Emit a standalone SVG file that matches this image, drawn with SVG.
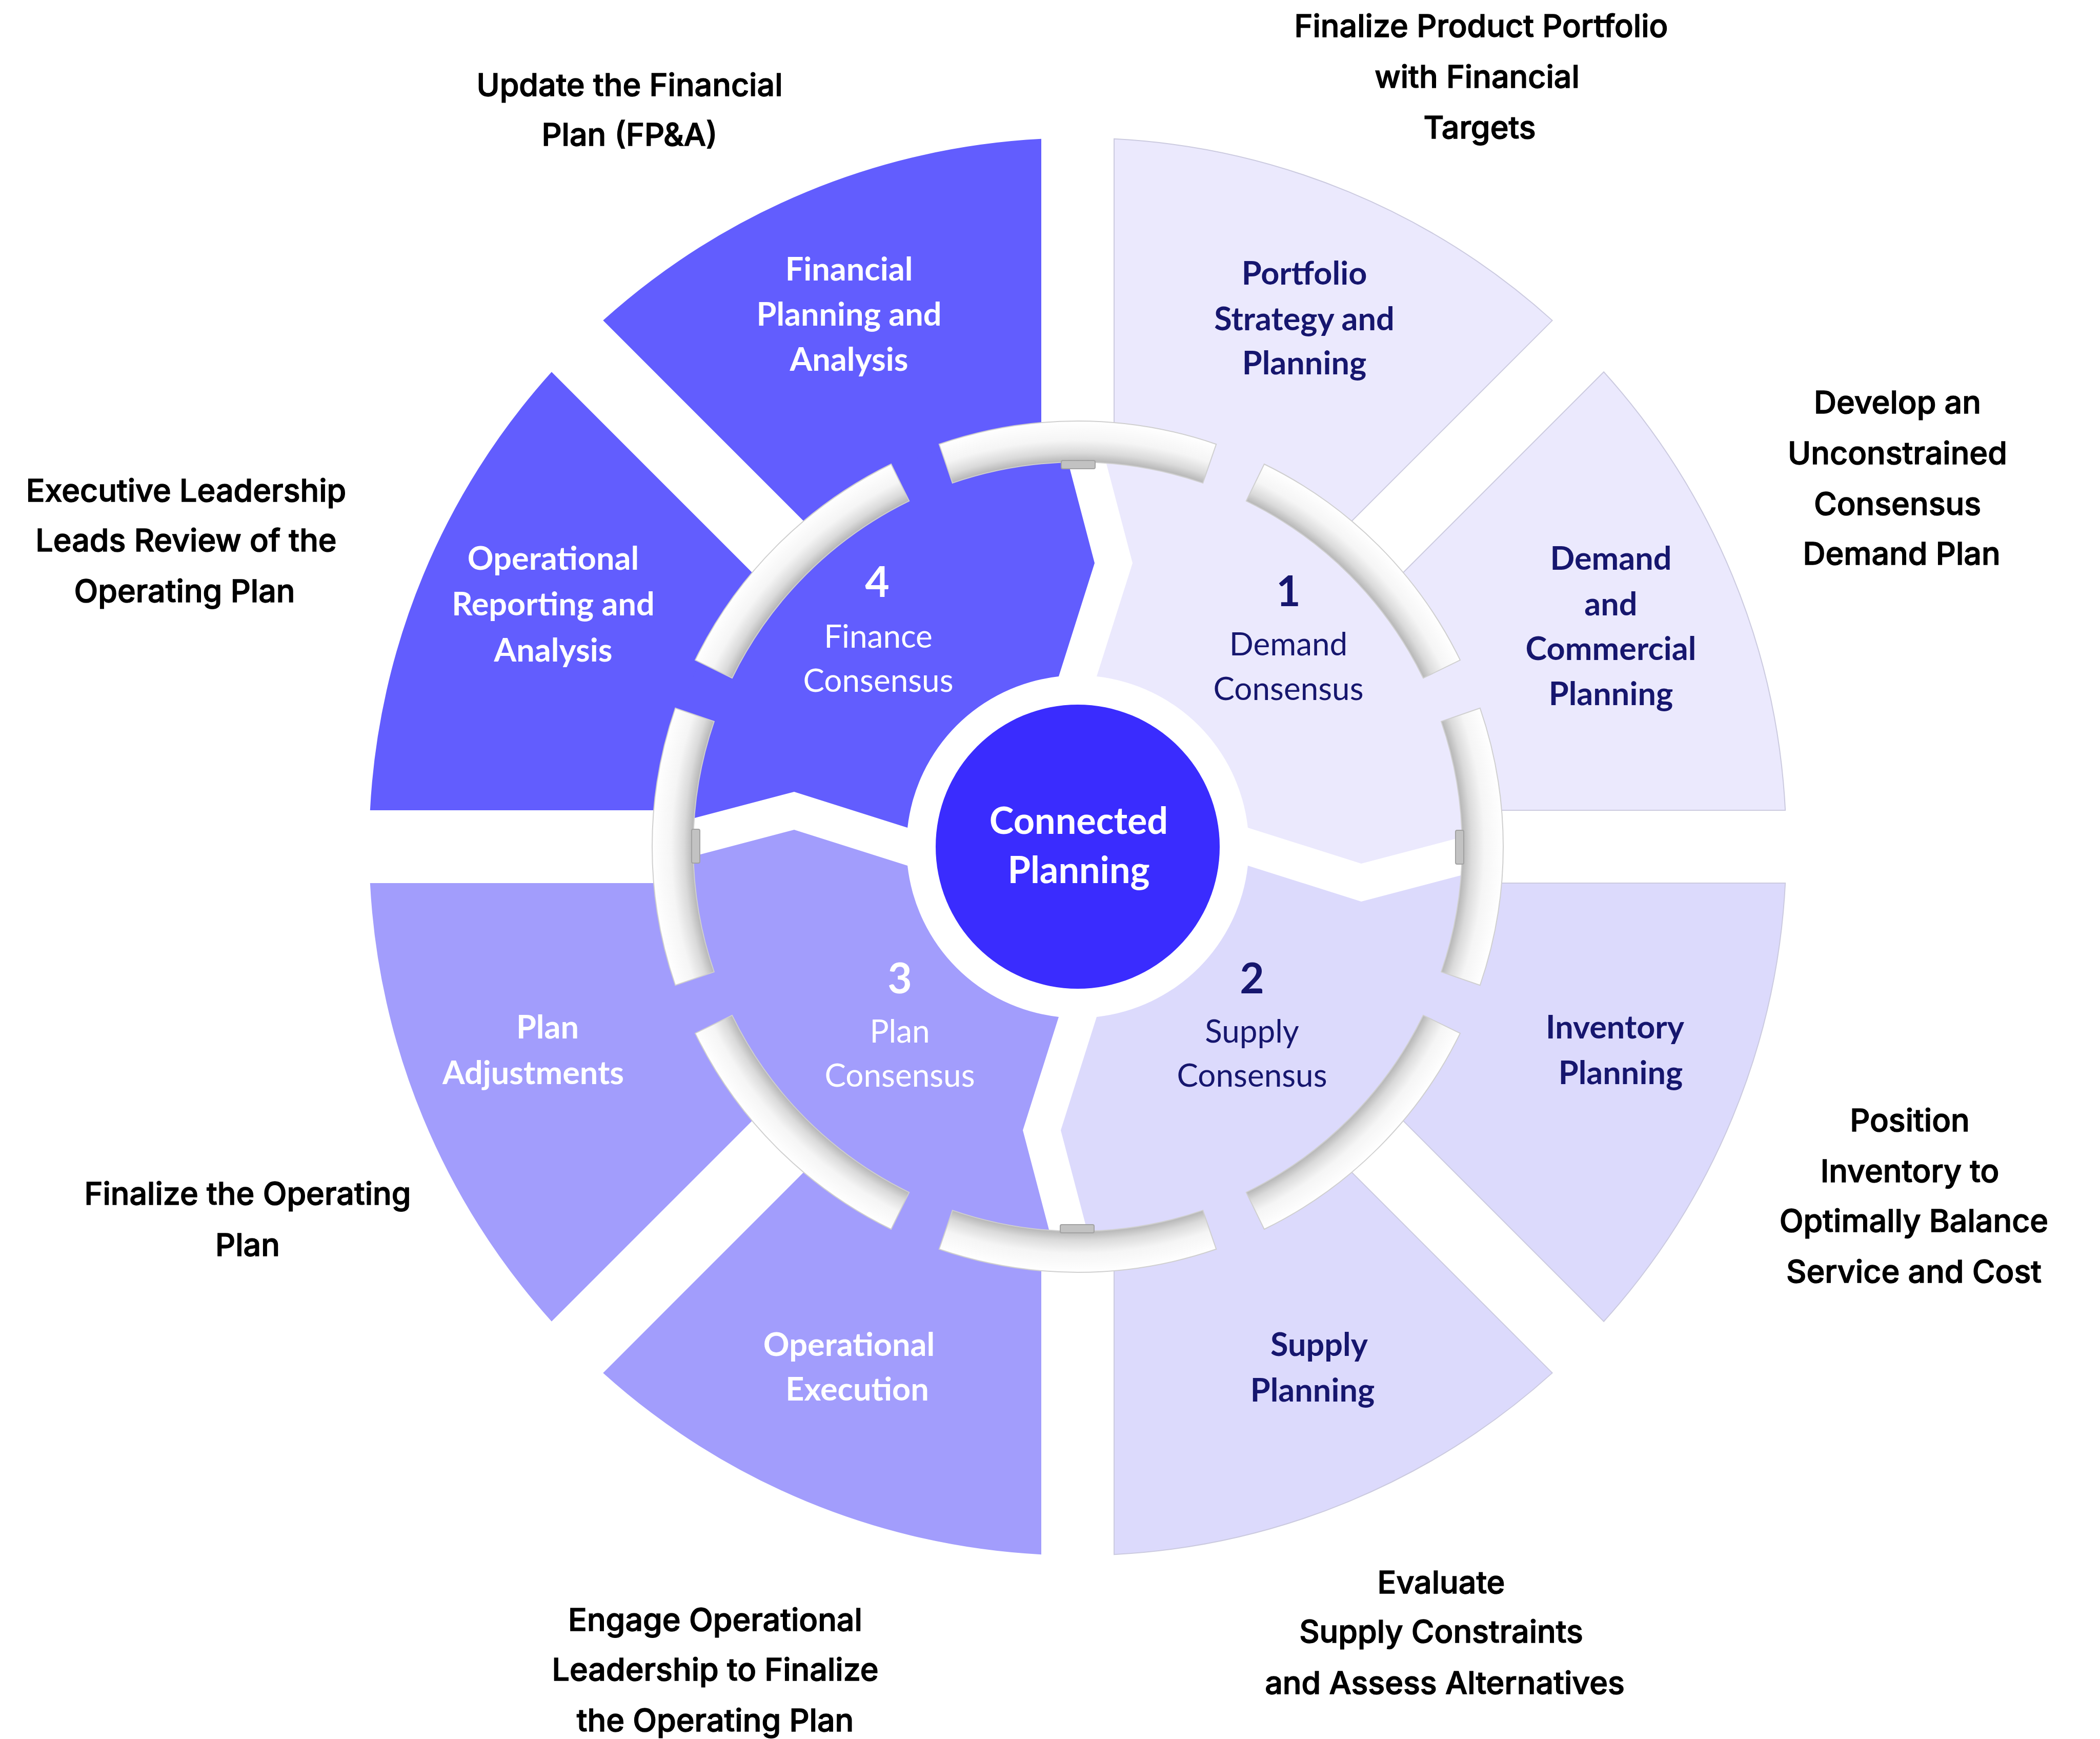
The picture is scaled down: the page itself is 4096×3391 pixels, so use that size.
<svg xmlns="http://www.w3.org/2000/svg" xmlns:xlink="http://www.w3.org/1999/xlink" width="4096" height="3391" viewBox="0 0 4096 3391">
<style>
.s4{fill:#625dfe}
.s3{fill:#a29dfc}
.s2{fill:#dcdafc;stroke:#cbcadf;stroke-width:2}
.s1{fill:#ebe9fd;stroke:#cbcadf;stroke-width:2}
.q4{fill:#625dfe}
.q3{fill:#a29dfc}
.q2{fill:#dcdafc}
.q1{fill:#ebe9fd}
.ann{font-family:Inter,"Liberation Sans",sans-serif;font-weight:500;font-size:61px;fill:#000;stroke:#000;stroke-width:1.4px;text-anchor:middle}
.lbl{font-family:Lato,"Liberation Sans",sans-serif;font-weight:700;font-size:63px;text-anchor:middle}
.cons{font-family:Lato,"Liberation Sans",sans-serif;font-weight:400;font-size:62px;text-anchor:middle}
.num{font-family:Lato,"Liberation Sans",sans-serif;font-weight:700;font-size:82px;text-anchor:middle}
.ctr{font-family:Lato,"Liberation Sans",sans-serif;font-weight:700;font-size:72px;text-anchor:middle;fill:#fff}
.w{fill:#fff}
.n{fill:#16166e}
.arc{fill:url(#ringGrad);stroke:#cfcfcf;stroke-width:2}
.tab{fill:#c2c2c2;stroke:#a2a2a2;stroke-width:2}
</style>
<defs>
<radialGradient id="ringGrad" gradientUnits="userSpaceOnUse" cx="2102" cy="1651" r="830">
<stop offset="0.9036" stop-color="#b6b6b6"/>
<stop offset="0.925" stop-color="#dadada"/>
<stop offset="0.955" stop-color="#f5f5f5"/>
<stop offset="1" stop-color="#ffffff"/>
</radialGradient>
<path id="arcTop" d="M 1831.78 866.22 A 830 830 0 0 1 2372.22 866.22 L 2346.18 941.86 A 750 750 0 0 0 1857.82 941.86 Z"/>
<rect id="tabTop" x="2070" y="898" width="66" height="16" rx="3"/>
</defs>
<rect x="0" y="0" width="4096" height="3391" fill="#ffffff"/>

<g id="seg-portfolio">
<path class="s1" d="M 2173 854.16 L 2173 270.82 A 1382 1382 0 0 1 3027.73 624.87 L 2615.25 1037.35 A 800 800 0 0 0 2173 854.16 Z"/>
<text class="lbl n" x="2544" y="555">Portfolio</text>
<text class="lbl n" x="2544" y="644">Strategy and</text>
<text class="lbl n" x="2544" y="730">Planning</text>
</g>
<g id="seg-demand-commercial">
<path class="s1" d="M 2715.65 1137.75 L 3128.13 725.27 A 1382 1382 0 0 1 3482.18 1580 L 2898.84 1580 A 800 800 0 0 0 2715.65 1137.75 Z"/>
<text class="lbl n" x="3142" y="1111">Demand</text>
<text class="lbl n" x="3142" y="1200">and</text>
<text class="lbl n" x="3142" y="1287">Commercial</text>
<text class="lbl n" x="3142" y="1375">Planning</text>
</g>
<g id="seg-inventory">
<path class="s2" d="M 2898.84 1722 L 3482.18 1722 A 1382 1382 0 0 1 3128.13 2576.73 L 2715.65 2164.25 A 800 800 0 0 0 2898.84 1722 Z"/>
<text class="lbl n" x="3150" y="2025">Inventory</text>
<text class="lbl n" x="3161" y="2114">Planning</text>
</g>
<g id="seg-supply-planning">
<path class="s2" d="M 2615.25 2264.65 L 3027.73 2677.13 A 1382 1382 0 0 1 2173 3031.18 L 2173 2447.84 A 800 800 0 0 0 2615.25 2264.65 Z"/>
<text class="lbl n" x="2573" y="2644">Supply</text>
<text class="lbl n" x="2560" y="2733">Planning</text>
</g>
<g id="seg-operational-execution">
<path class="s3" d="M 2031 2447.84 L 2031 3031.18 A 1382 1382 0 0 1 1176.27 2677.13 L 1588.75 2264.65 A 800 800 0 0 0 2031 2447.84 Z"/>
<text class="lbl w" x="1656" y="2644">Operational</text>
<text class="lbl w" x="1672" y="2731">Execution</text>
</g>
<g id="seg-plan-adjustments">
<path class="s3" d="M 1488.35 2164.25 L 1075.87 2576.73 A 1382 1382 0 0 1 721.82 1722 L 1305.16 1722 A 800 800 0 0 0 1488.35 2164.25 Z"/>
<text class="lbl w" x="1068" y="2025">Plan</text>
<text class="lbl w" x="1040" y="2114">Adjustments</text>
</g>
<g id="seg-operational-reporting">
<path class="s4" d="M 1305.16 1580 L 721.82 1580 A 1382 1382 0 0 1 1075.87 725.27 L 1488.35 1137.75 A 800 800 0 0 0 1305.16 1580 Z"/>
<text class="lbl w" x="1079" y="1111">Operational</text>
<text class="lbl w" x="1079" y="1200">Reporting and</text>
<text class="lbl w" x="1079" y="1290">Analysis</text>
</g>
<g id="seg-fpa">
<path class="s4" d="M 1588.75 1037.35 L 1176.27 624.87 A 1382 1382 0 0 1 2031 270.82 L 2031 854.16 A 800 800 0 0 0 1588.75 1037.35 Z"/>
<text class="lbl w" x="1656" y="547">Financial</text>
<text class="lbl w" x="1656" y="635">Planning and</text>
<text class="lbl w" x="1656" y="723">Analysis</text>
</g>

<g id="q1-demand-consensus">
<path class="q1" d="M 2139 1319.1 L 2209 1098 L 2139 831.8 A 820 820 0 0 1 2921.2 1614 L 2655 1684 L 2433.9 1614 A 334 334 0 0 0 2139 1319.1 Z"/>
</g>
<g id="q2-supply-consensus">
<path class="q2" d="M 2433.9 1688 L 2655 1758 L 2921.2 1688 A 820 820 0 0 1 2139 2470.2 L 2069 2204 L 2139 1982.9 A 334 334 0 0 0 2433.9 1688 Z"/>
</g>
<g id="q3-plan-consensus">
<path class="q3" d="M 2065 1982.9 L 1995 2204 L 2065 2470.2 A 820 820 0 0 1 1282.8 1688 L 1549 1618 L 1770.1 1688 A 334 334 0 0 0 2065 1982.9 Z"/>
</g>
<g id="q4-finance-consensus">
<path class="q4" d="M 1770.1 1614 L 1549 1544 L 1282.8 1614 A 820 820 0 0 1 2065 831.8 L 2135 1098 L 2065 1319.1 A 334 334 0 0 0 1770.1 1614 Z"/>
</g>

<g id="ring">
<use href="#arcTop" class="arc"/>
<use href="#arcTop" class="arc" transform="rotate(45 2102 1651)"/>
<use href="#arcTop" class="arc" transform="rotate(90 2102 1651)"/>
<use href="#arcTop" class="arc" transform="rotate(135 2102 1651)"/>
<use href="#arcTop" class="arc" transform="rotate(180 2102 1651)"/>
<use href="#arcTop" class="arc" transform="rotate(225 2102 1651)"/>
<use href="#arcTop" class="arc" transform="rotate(270 2102 1651)"/>
<use href="#arcTop" class="arc" transform="rotate(315 2102 1651)"/>
<use href="#tabTop" class="tab"/>
<use href="#tabTop" class="tab" transform="rotate(90 2102 1651)"/>
<use href="#tabTop" class="tab" transform="rotate(180 2102 1651)"/>
<use href="#tabTop" class="tab" transform="rotate(270 2102 1651)"/>
</g>

<g id="q-labels">
<text class="num n" x="2513" y="1182">1</text>
<text class="cons n" x="2513" y="1278">Demand</text>
<text class="cons n" x="2513" y="1365">Consensus</text>
<text class="num n" x="2442" y="1937">2</text>
<text class="cons n" x="2442" y="2033">Supply</text>
<text class="cons n" x="2442" y="2119">Consensus</text>
<text class="num w" x="1755" y="1937">3</text>
<text class="cons w" x="1755" y="2033">Plan</text>
<text class="cons w" x="1755" y="2119">Consensus</text>
<text class="num w" x="1711" y="1164">4</text>
<text class="cons w" x="1713" y="1263">Finance</text>
<text class="cons w" x="1713" y="1349">Consensus</text>
</g>

<g id="center-connected-planning">
<circle cx="2102" cy="1651" r="277" fill="#3a2cfe"/>
<text class="ctr" x="2104" y="1626">Connected</text>
<text class="ctr" x="2104" y="1722">Planning</text>
</g>

<g id="annotations">
<g id="ann-fpa">
<text class="ann" x="1228" y="187">Update the Financial</text>
<text class="ann" x="1228" y="284">Plan (FP&amp;A)</text>
</g>
<g id="ann-portfolio">
<text class="ann" x="2889" y="72">Finalize Product Portfolio</text>
<text class="ann" x="2881" y="171">with Financial</text>
<text class="ann" x="2886" y="270">Targets</text>
</g>
<g id="ann-demand">
<text class="ann" x="3701" y="806">Develop an</text>
<text class="ann" x="3701" y="905">Unconstrained</text>
<text class="ann" x="3701" y="1004">Consensus</text>
<text class="ann" x="3709" y="1101">Demand Plan</text>
</g>
<g id="ann-executive">
<text class="ann" x="363" y="978">Executive Leadership</text>
<text class="ann" x="363" y="1075">Leads Review of the</text>
<text class="ann" x="360" y="1174">Operating Plan</text>
</g>
<g id="ann-finalize">
<text class="ann" x="483" y="2349">Finalize the Operating</text>
<text class="ann" x="483" y="2449">Plan</text>
</g>
<g id="ann-inventory">
<text class="ann" x="3725" y="2206">Position</text>
<text class="ann" x="3725" y="2305">Inventory to</text>
<text class="ann" x="3733" y="2402">Optimally Balance</text>
<text class="ann" x="3733" y="2501">Service and Cost</text>
</g>
<g id="ann-supply">
<text class="ann" x="2811" y="3107">Evaluate</text>
<text class="ann" x="2811" y="3203">Supply Constraints</text>
<text class="ann" x="2818" y="3303">and Assess Alternatives</text>
</g>
<g id="ann-engage">
<text class="ann" x="1395" y="3180">Engage Operational</text>
<text class="ann" x="1395" y="3277">Leadership to Finalize</text>
<text class="ann" x="1395" y="3376">the Operating Plan</text>
</g>
</g>
<g id="connectors"/>
</svg>
